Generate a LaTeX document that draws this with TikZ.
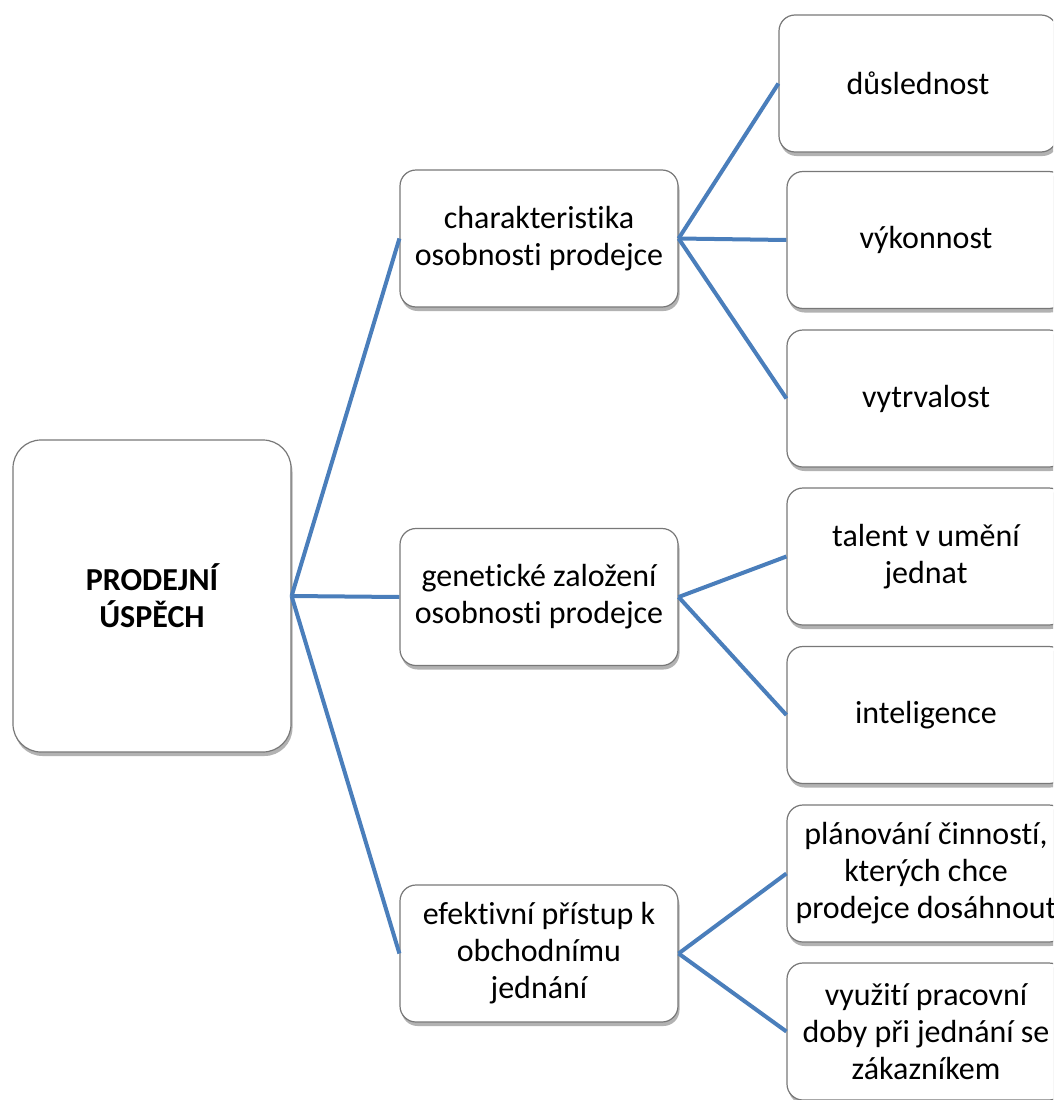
\documentclass[tikz,border=0pt]{standalone}
\usepackage{fontspec}
\setmainfont{Carlito}[Ligatures={NoCommon}]
\usetikzlibrary{shadows}
\definecolor{conn}{RGB}{74,126,187}
\definecolor{boxline}{RGB}{120,120,120}
\begin{document}
\begin{tikzpicture}[x=1pt,y=-1pt,
  every node/.style={font=\fontsize{32}{37}\selectfont},
  box/.style={draw=boxline, line width=1.2pt, fill=white, rounded corners=16pt,
    minimum width=278pt, minimum height=137pt, align=center, inner sep=2pt,
    drop shadow={shadow xshift=1.5pt, shadow yshift=-4pt, opacity=0.3, fill=black}},
  rootbox/.style={box, rounded corners=28pt, minimum height=312pt},
  link/.style={draw=conn, line width=4pt}]
\useasboundingbox (0,0) rectangle (1053,1100);
\clip (0,0) rectangle (1053,1100);
\node[rootbox] (root) at (152,596) {\bfseries PRODEJNÍ\\\bfseries ÚSPĚCH};
\node[box] (l1a) at (539,238.5) {charakteristika\\osobnosti prodejce};
\node[box] (l1b) at (539,597) {genetické založení\\osobnosti prodejce};
\node[box] (l1c) at (539,953.5) {efektivní přístup k\\obchodnímu\\jednání};
\node[box] (m1) at (918,83.5) {důslednost};
\node[box] (m2) at (926,240) {výkonnost};
\node[box] (m3) at (926,398.5) {vytrvalost};
\node[box] (m4) at (926,556.5) {talent v umění\\jednat};
\node[box] (m5) at (926,715) {inteligence};
\node[box] (m6) at (926,873.5) {plánování činností,\\kterých chce\\prodejce dosáhnout};
\node[box] (m7) at (926,1031.5) {využití pracovní\\doby při jednání se\\zákazníkem};
\draw[link] (root.east) -- (l1a.west);
\draw[link] (root.east) -- (l1b.west);
\draw[link] (root.east) -- (l1c.west);
\draw[link] (l1a.east) -- (m1.west);
\draw[link] (l1a.east) -- (m2.west);
\draw[link] (l1a.east) -- (m3.west);
\draw[link] (l1b.east) -- (m4.west);
\draw[link] (l1b.east) -- (m5.west);
\draw[link] (l1c.east) -- (m6.west);
\draw[link] (l1c.east) -- (m7.west);
\end{tikzpicture}
\end{document}
